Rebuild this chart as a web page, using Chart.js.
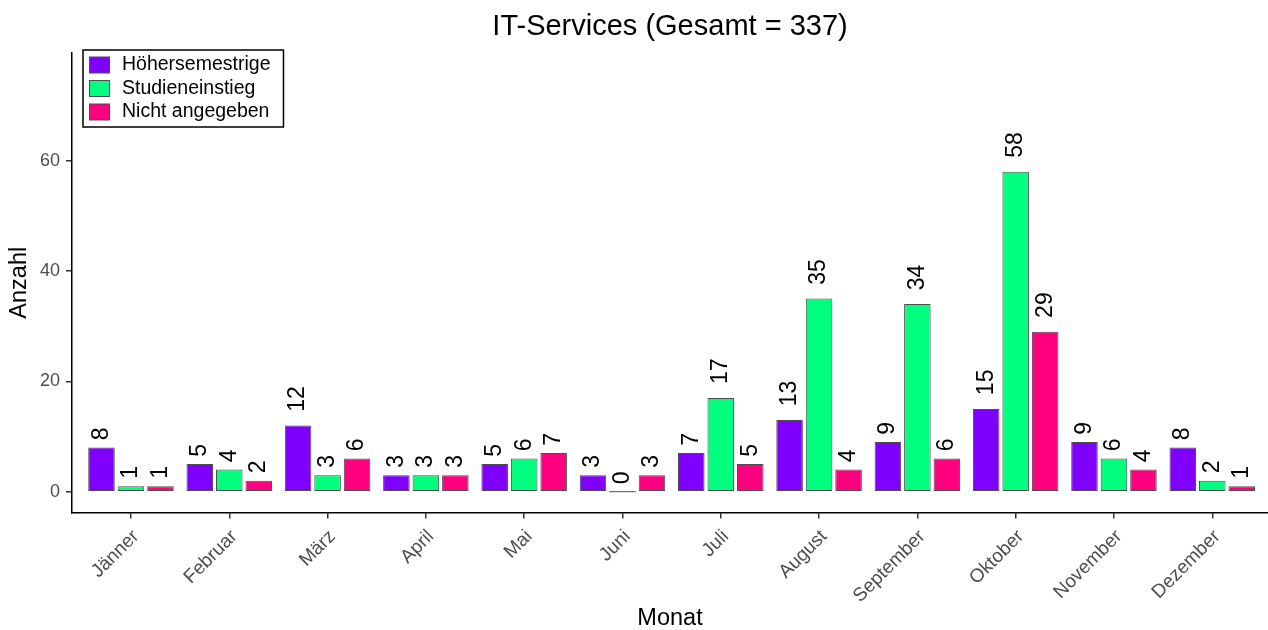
<!DOCTYPE html>
<html>
<head>
<meta charset="utf-8">
<title>IT-Services</title>
<script src="https://cdn.jsdelivr.net/npm/chart.js@4.4.1/dist/chart.umd.min.js"></script>
<style>
  html, body { margin: 0; padding: 0; background: #fff; }
  #wrap { width: 1268px; height: 630px; }
</style>
</head>
<body>
<div id="wrap"><canvas id="it-chart" width="1268" height="630"></canvas></div>
<script>
const months = ["Jänner", "Februar", "März", "April", "Mai", "Juni", "Juli",
  "August", "September", "Oktober", "November", "Dezember"];
const hoehersemestrige = [8, 5, 12, 3, 5, 3, 7, 13, 9, 15, 9, 8];
const studieneinstieg = [1, 4, 3, 3, 6, 0, 17, 35, 34, 58, 6, 2];
const nichtAngegeben = [1, 2, 6, 3, 7, 3, 5, 4, 6, 29, 4, 1];
const yTicks = [0, 20, 40, 60];
const seriesNames = ["Höhersemestrige", "Studieneinstieg", "Nicht angegeben"];
const seriesColors = ["#7F00FF", "#00FF7F", "#FF007F"];

const FONT = "'Liberation Sans', Arial, Helvetica, sans-serif";
const EDGE = "#4d4d4d";

function toPoints(arr) {
  return arr.map((v, i) => ({ x: i, y: v }));
}

// value labels above the bars, rotated like in ggplot (angle = 90)
const valueLabels = {
  id: "valueLabels",
  afterDatasetsDraw(chart) {
    const ctx = chart.ctx;
    ctx.save();
    ctx.font = "23px " + FONT;
    ctx.fillStyle = "#000";
    chart.data.datasets.forEach((ds, di) => {
      const meta = chart.getDatasetMeta(di);
      meta.data.forEach((bar, i) => {
        const v = ds.data[i].y;
        if (v === 0) {
          // empty bar still shows its outline as a line
          ctx.save();
          ctx.strokeStyle = EDGE;
          ctx.lineWidth = 1;
          ctx.beginPath();
          ctx.moveTo(bar.x - bar.width / 2, bar.y);
          ctx.lineTo(bar.x + bar.width / 2, bar.y);
          ctx.stroke();
          ctx.restore();
        }
        const txt = String(v);
        const w = ctx.measureText(txt).width;
        ctx.save();
        ctx.translate(bar.x, bar.y - 0.5 * w - 1);
        ctx.rotate(-Math.PI / 2);
        ctx.textAlign = "left";
        ctx.textBaseline = "middle";
        ctx.fillText(txt, 0, 0);
        ctx.restore();
      });
    });
    ctx.restore();
  },
};

// legend in a framed box at the top left of the panel
const boxLegend = {
  id: "boxLegend",
  afterDraw(chart) {
    const ctx = chart.ctx;
    const area = chart.chartArea;
    const x0 = area.left + 11;
    const y0 = area.top - 3;
    ctx.save();
    ctx.font = "19.5px " + FONT;
    let maxW = 0;
    seriesNames.forEach((n) => {
      maxW = Math.max(maxW, ctx.measureText(n).width);
    });
    const boxW = 39 + maxW + 13;
    const boxH = 77;
    ctx.fillStyle = "#fff";
    ctx.fillRect(x0, y0, boxW, boxH);
    ctx.strokeStyle = "#000";
    ctx.lineWidth = 1.5;
    ctx.strokeRect(x0, y0, boxW, boxH);
    seriesNames.forEach((n, i) => {
      const cy = y0 + 15 + i * 23.5;
      ctx.fillStyle = seriesColors[i];
      ctx.fillRect(x0 + 6.5, cy - 8, 20, 16);
      ctx.strokeStyle = EDGE;
      ctx.lineWidth = 1;
      ctx.strokeRect(x0 + 6.5, cy - 8, 20, 16);
      ctx.fillStyle = "#000";
      ctx.textAlign = "left";
      ctx.textBaseline = "middle";
      ctx.fillText(n, x0 + 39, cy);
    });
    ctx.restore();
  },
};

function drawChart() {
  const ctx = document.getElementById("it-chart");
  const seriesData = [hoehersemestrige, studieneinstieg, nichtAngegeben];

  const myChart = new Chart(ctx, {
    type: "bar",
    data: {
      datasets: seriesData.map((arr, i) => ({
        label: seriesNames[i],
        data: toPoints(arr),
        backgroundColor: seriesColors[i],
        borderColor: EDGE,
        borderWidth: 1,
        borderSkipped: false,
        categoryPercentage: 0.9,
        barPercentage: 0.9,
      })),
    },
    options: {
      responsive: false,
      devicePixelRatio: 1,
      animation: false,
      layout: { padding: 0 },
      plugins: {
        legend: { display: false },
        tooltip: { enabled: false },
        title: {
          display: true,
          fullSize: false,
          text: "IT-Services (Gesamt = 337)",
          color: "#000",
          font: { family: FONT, size: 29, weight: "normal" },
          padding: { top: 10, bottom: 8.2 },
        },
      },
      scales: {
        x: {
          type: "linear",
          min: -0.6,
          max: 11.567,
          offset: false,
          afterBuildTicks(scale) {
            scale.ticks = months.map((m, i) => ({ value: i }));
          },
          afterFit(scale) {
            scale.height = 117.5;
            scale.paddingLeft = 0;
            scale.paddingRight = 0;
          },
          ticks: {
            autoSkip: false,
            minRotation: 45,
            maxRotation: 45,
            padding: 7,
            labelOffset: 5,
            color: "#4d4d4d",
            font: { family: FONT, size: 19 },
            callback: (value) => months[value],
          },
          grid: {
            offset: false,
            drawOnChartArea: false,
            tickLength: 6,
            tickColor: "#333",
            lineWidth: 1.5,
          },
          border: { color: "#000", width: 1.5 },
          title: {
            display: true,
            text: "Monat",
            color: "#000",
            font: { family: FONT, size: 23.5, lineHeight: 1 },
            padding: { top: 0, bottom: 0 },
          },
        },
        y: {
          min: -3.77,
          max: 79.5,
          afterBuildTicks(scale) {
            scale.ticks = yTicks.map((v) => ({ value: v }));
          },
          afterFit(scale) {
            scale.width = 72;
          },
          ticks: {
            padding: 6,
            color: "#4d4d4d",
            font: { family: FONT, size: 18 },
          },
          grid: {
            drawOnChartArea: false,
            tickLength: 6,
            tickColor: "#333",
            lineWidth: 1.5,
          },
          border: { color: "#000", width: 1.5 },
          title: {
            display: true,
            text: "Anzahl",
            color: "#000",
            font: { family: FONT, size: 23.5, lineHeight: 1 },
            padding: { top: 8, bottom: 0 },
          },
        },
      },
    },
    plugins: [valueLabels, boxLegend],
  });

  return myChart;
}

drawChart();
</script>
</body>
</html>
